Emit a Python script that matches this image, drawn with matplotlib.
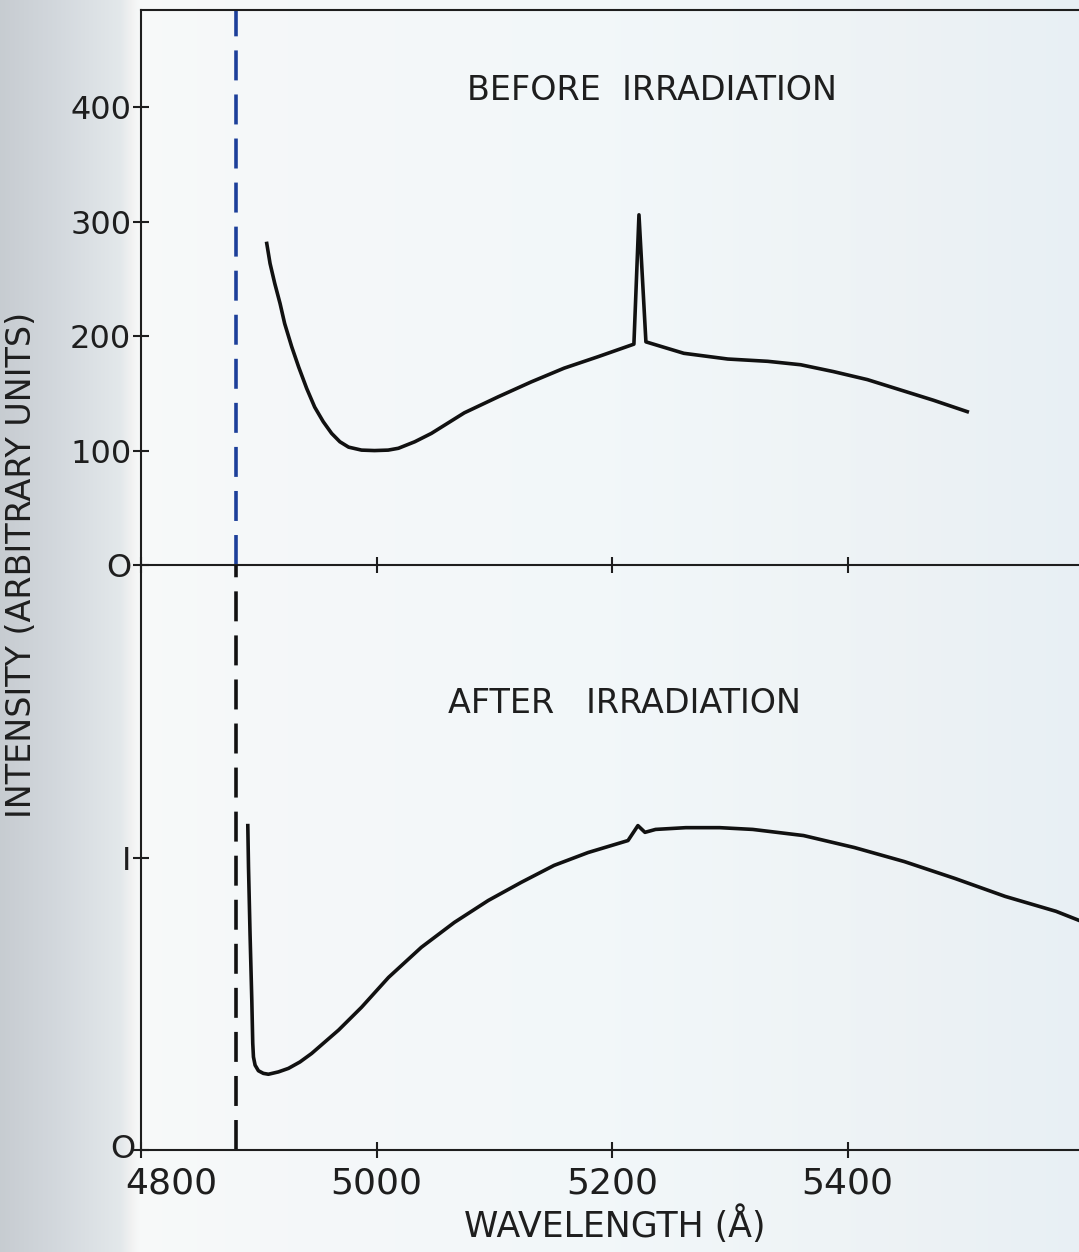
import matplotlib.pyplot as plt
import numpy as np
from matplotlib.transforms import ScaledTranslation

# Spectrum before irradiation (wavelength in Angstrom, intensity in arbitrary units)
before_wl = [4906.8, 4909.6, 4913.6, 4918.1, 4922.0, 4928.0, 4933.9, 4940.7, 4947.5,
             4954.8, 4961.9, 4968.9, 4976.3, 4987.3, 4998.3, 5009.9, 5018.6, 5032.5,
             5046.6, 5074.6, 5103.4, 5131.4, 5159.3, 5188.1, 5218.6, 5222.9, 5228.8,
             5261.0, 5298.3, 5332.2, 5360.2, 5388.1, 5416.9, 5444.9, 5472.9, 5501.7]
before_int = [281, 263.5, 246, 228.5, 211, 190.7, 173, 154.3, 138,
              125.2, 115, 107.7, 103, 100.4, 100, 100.4, 102, 107.7,
              115, 133, 147, 160, 172, 182, 193, 306, 195,
              185, 180, 178, 175, 169, 162, 153, 144, 134]

# Spectrum after irradiation
after_wl = [4890.7, 4891.3, 4892.6, 4894.1, 4894.9, 4895.5, 4896.9, 4899.7, 4903.9,
            4908.2, 4916.7, 4925.2, 4935.0, 4944.9, 4967.8, 4987.3, 5010.2, 5038.1,
            5066.1, 5094.9, 5122.9, 5150.8, 5179.7, 5213.6, 5222.0, 5228.0, 5237.0,
            5262.7, 5291.5, 5319.5, 5362.7, 5405.9, 5448.3, 5491.5, 5533.9, 5577.1,
            5596.6]
after_int = [1.109, 0.967, 0.740, 0.512, 0.365, 0.318, 0.290, 0.271, 0.262,
             0.259, 0.267, 0.279, 0.301, 0.330, 0.410, 0.488, 0.590, 0.693,
             0.778, 0.853, 0.915, 0.973, 1.017, 1.058, 1.109, 1.086, 1.096,
             1.102, 1.102, 1.096, 1.075, 1.034, 0.986, 0.928, 0.867, 0.816,
             0.785]

# dashed reference wavelength
marker_wl = 4881

top_yticks = [0, 100, 200, 300, 400]
top_ylabels = ['O', '100', '200', '300', '400']
bottom_yticks = [0, 1]
bottom_ylabels = ['O', 'I']
xticks = [4800, 5000, 5200, 5400]

plt.rcParams.update({'font.family': 'DejaVu Sans'})
ink = '#1e1e1e'

fig = plt.figure(figsize=(10.79, 12.52), dpi=100)

# scanned paper background
bg = fig.add_axes([0, 0, 1, 1], zorder=-5)
px = np.arange(1079)
ctrl_x = [0, 60, 120, 132, 140, 300, 600, 900, 1079]
ctrl_c = np.array([[0.78, 0.80, 0.82], [0.83, 0.85, 0.87], [0.89, 0.91, 0.92],
                   [0.95, 0.95, 0.95], [0.97, 0.98, 0.98], [0.96, 0.97, 0.98],
                   [0.95, 0.97, 0.98], [0.93, 0.95, 0.96], [0.91, 0.94, 0.96]])
grad = np.stack([np.interp(px, ctrl_x, ctrl_c[:, k]) for k in range(3)], axis=-1)
bg.imshow(grad[None, :, :], aspect='auto', extent=[0, 1, 0, 1])
bg.axis('off')

left = 141 / 1079
width = (1083 - 141) / 1079
y_mid = 1 - 565 / 1252
y_top = 1 - 10 / 1252
y_bot = 1 - 1150 / 1252

ax1 = fig.add_axes([left, y_mid, width, y_top - y_mid])
ax2 = fig.add_axes([left, y_bot, width, y_mid - y_bot])

for ax in (ax1, ax2):
    ax.set_facecolor('none')
    ax.set_xlim(4800, 5600)
    ax.set_xticks(xticks)
    for s in ax.spines.values():
        s.set_color(ink)
        s.set_linewidth(1.5)
    ax.spines['right'].set_visible(False)
    ax.tick_params(direction='inout', length=12, width=1.5, colors=ink,
                   labelsize=23, pad=1)

# top panel
ax1.plot(before_wl, before_int, color='#111111', lw=2.6, solid_joinstyle='round')
ax1.axvline(marker_wl, color='#1c3f9a', lw=2.6, dashes=(8.3, 3.9))
ax1.set_ylim(0, 485)
ax1.set_yticks(top_yticks)
ax1.set_yticklabels(top_ylabels)
ax1.tick_params(axis='x', labelbottom=False)
ax1.text(5234, 415, 'BEFORE  IRRADIATION', ha='center', va='center',
         fontsize=24, color=ink)

# bottom panel
ax2.plot(after_wl, after_int, color='#111111', lw=2.6, solid_joinstyle='round')
ax2.axvline(marker_wl, color='#111111', lw=2.6, dashes=(8.3, 3.9))
ax2.set_ylim(0, 2.0)
ax2.set_yticks(bottom_yticks)
ax2.set_yticklabels(bottom_ylabels)
ax2.spines['top'].set_visible(False)
ax2.tick_params(axis='x', labelsize=26, pad=6)
ax2.set_xticklabels([str(t) for t in xticks])
ax2.text(5211, 1.526, 'AFTER   IRRADIATION', ha='center', va='center',
         fontsize=24, color=ink)

# nudge first x label right and bottom 0 label like the original lettering
lab0 = ax2.get_xticklabels()[0]
lab0.set_transform(lab0.get_transform() + ScaledTranslation(0.3, 0, fig.dpi_scale_trans))
ylab0 = ax2.get_yticklabels()[0]
ylab0.set_transform(ylab0.get_transform() + ScaledTranslation(0.04, 0.04, fig.dpi_scale_trans))

fig.text(22 / 1079, 1 - 565 / 1252, 'INTENSITY (ARBITRARY UNITS)', rotation=90,
         ha='center', va='center', fontsize=24, color=ink)
fig.text(615 / 1079, 1 - 1225 / 1252, 'WAVELENGTH (Å)', ha='center', va='center',
         fontsize=25, color=ink)

fig.savefig('out.png', dpi=100)
